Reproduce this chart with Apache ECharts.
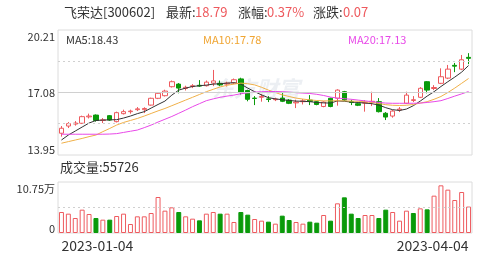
<!DOCTYPE html>
<html>
<head>
<meta charset="utf-8">
<style>
html, body { margin: 0; padding: 0; background: #fff; }
#main { width: 499px; height: 261px; }
</style>
<script src="https://cdn.jsdelivr.net/npm/echarts@6/dist/echarts.min.js"></script>
</head>
<body>
<div id="main"></div>
<script>
const dates = [
  '2023-01-04', '2023-01-05', '2023-01-06', '2023-01-09', '2023-01-10', '2023-01-11', '2023-01-12', '2023-01-13',
  '2023-01-16', '2023-01-17', '2023-01-18', '2023-01-19', '2023-01-20', '2023-01-30', '2023-01-31',
  '2023-02-01', '2023-02-02', '2023-02-03', '2023-02-06', '2023-02-07', '2023-02-08', '2023-02-09', '2023-02-10',
  '2023-02-13', '2023-02-14', '2023-02-15', '2023-02-16', '2023-02-17', '2023-02-20', '2023-02-21', '2023-02-22',
  '2023-02-23', '2023-02-24', '2023-02-27', '2023-02-28',
  '2023-03-01', '2023-03-02', '2023-03-03', '2023-03-06', '2023-03-07', '2023-03-08', '2023-03-09', '2023-03-10',
  '2023-03-13', '2023-03-14', '2023-03-15', '2023-03-16', '2023-03-17', '2023-03-20', '2023-03-21', '2023-03-22',
  '2023-03-23', '2023-03-24', '2023-03-27', '2023-03-28', '2023-03-29', '2023-03-30', '2023-03-31',
  '2023-04-03', '2023-04-04'
]

const opens = [
  15.04, 15.40, 15.50, 15.54, 15.86, 15.95, 15.68, 15.92, 15.62, 16.02,
  16.12, 16.22, 16.22, 16.45, 16.79, 16.92, 17.37, 17.50, 17.28, 17.38,
  17.44, 17.42, 17.55, 17.54, 17.50, 17.56, 17.76, 17.18, 16.80, 16.84,
  16.76, 16.72, 16.80, 16.70, 16.56, 16.62, 16.70, 16.62, 16.38, 16.79,
  16.79, 17.12, 16.62, 16.52, 16.55, 16.60, 16.62, 16.04, 15.90, 16.20,
  16.54, 16.68, 16.84, 17.62, 17.28, 17.54, 17.80, 18.44, 18.25, 18.84
]
const closes = [
  15.29, 15.52, 15.55, 15.87, 15.90, 15.68, 15.71, 15.70, 16.07, 16.12,
  16.15, 16.26, 16.28, 16.79, 17.04, 17.15, 17.62, 17.30, 17.34, 17.42,
  17.40, 17.60, 17.66, 17.46, 17.55, 17.72, 17.08, 16.74, 16.78, 16.88,
  16.73, 16.75, 16.64, 16.54, 16.60, 16.66, 16.64, 16.48, 16.60, 16.38,
  17.20, 16.70, 16.58, 16.44, 16.58, 16.64, 16.12, 15.85, 16.15, 16.25,
  16.95, 16.72, 17.29, 17.20, 17.33, 17.87, 18.25, 18.40, 18.72, 18.79
]
const lows = [
  14.87, 15.30, 15.42, 15.50, 15.78, 15.62, 15.55, 15.66, 15.58, 15.98,
  16.02, 16.15, 16.05, 16.42, 16.75, 16.88, 17.33, 17.04, 17.18, 17.30,
  17.36, 17.38, 17.40, 17.40, 17.38, 17.50, 16.98, 16.64, 16.45, 16.62,
  16.60, 16.65, 16.60, 16.50, 16.30, 16.48, 16.45, 16.44, 16.34, 16.34,
  16.42, 16.65, 16.45, 16.40, 16.12, 16.40, 16.08, 15.70, 15.82, 16.10,
  16.50, 16.60, 16.80, 17.04, 17.20, 17.50, 17.75, 18.10, 18.20, 18.50
]
const highs = [
  15.40, 15.60, 15.65, 15.92, 16.02, 15.98, 15.80, 15.95, 16.12, 16.22,
  16.22, 16.35, 16.34, 16.82, 17.10, 17.22, 17.68, 17.55, 17.42, 17.50,
  17.70, 17.68, 18.21, 17.68, 17.62, 17.78, 17.82, 17.22, 16.90, 17.00,
  16.90, 16.82, 17.05, 16.75, 16.72, 16.75, 16.95, 16.66, 16.64, 16.82,
  17.24, 17.16, 16.72, 16.56, 16.70, 17.12, 16.80, 16.10, 16.20, 16.35,
  17.12, 16.90, 17.35, 17.65, 17.45, 18.29, 18.46, 18.56, 18.96, 19.05
]

// 均线数值（从图上读出，窗口外的历史数据看不到）
const ma5 = [
  14.70, 14.95, 15.15, 15.35, 15.55, 15.68, 15.70, 15.71, 15.72, 15.80,
  15.90, 16.02, 16.12, 16.30, 16.48, 16.65, 16.95, 17.20, 17.30, 17.38,
  17.42, 17.45, 17.50, 17.52, 17.55, 17.57, 17.50, 17.30, 17.12, 16.96,
  16.82, 16.76, 16.72, 16.68, 16.65, 16.64, 16.62, 16.58, 16.56, 16.55,
  16.66, 16.64, 16.60, 16.58, 16.55, 16.52, 16.45, 16.32, 16.22, 16.18,
  16.25, 16.42, 16.65, 16.90, 17.12, 17.38, 17.62, 17.85, 18.10, 18.43
]
const ma10 = [
  14.54, 14.62, 14.70, 14.78, 14.87, 14.95, 15.12, 15.28, 15.45, 15.58,
  15.68, 15.78, 15.90, 16.03, 16.16, 16.28, 16.42, 16.56, 16.70, 16.84,
  16.98, 17.12, 17.24, 17.36, 17.44, 17.50, 17.55, 17.52, 17.46, 17.34,
  17.20, 17.08, 16.96, 16.88, 16.80, 16.75, 16.71, 16.68, 16.66, 16.66,
  16.67, 16.66, 16.65, 16.64, 16.62, 16.58, 16.53, 16.47, 16.44, 16.43,
  16.44, 16.48, 16.55, 16.62, 16.74, 16.88, 17.08, 17.30, 17.54, 17.78
]
const ma20 = [
  14.99, 14.99, 14.99, 14.99, 14.99, 14.99, 14.99, 15.00, 15.02, 15.08,
  15.14, 15.20, 15.32, 15.45, 15.60, 15.74, 15.88, 16.04, 16.20, 16.37,
  16.52, 16.67, 16.76, 16.84, 16.90, 16.95, 17.02, 17.06, 17.10, 17.12,
  17.13, 17.13, 17.12, 17.10, 17.07, 17.05, 17.03, 16.99, 16.93, 16.85,
  16.80, 16.77, 16.74, 16.70, 16.66, 16.62, 16.58, 16.55, 16.54, 16.54,
  16.54, 16.54, 16.55, 16.58, 16.62, 16.67, 16.78, 16.90, 17.01, 17.13
]

const volumes = [
  44264, 40750, 31617, 49182, 40048, 31617, 28104, 28104, 35833, 40750,
  18970, 35130, 35130, 42156, 75881, 47074, 54100, 44264, 35130, 30212,
  26699, 40750, 44264, 40750, 40750, 23186, 44264, 38643, 29509, 25996,
  23888, 19673, 36535, 27401, 23186, 19673, 23888, 21781, 37940, 25996,
  62531, 75178, 40750, 31617, 37940, 37940, 31617, 49182, 44264, 25996,
  47074, 42156, 51992, 49885, 78691, 100472, 91338, 69557, 86420, 55726
]

const priceLabels = [13.95, 17.08, 20.21]
const priceDashed = [15.515, 18.645]
const priceSolid = [17.08]
const volLabels = [0, 107500]
const volDashed = [53750]

const RED = '#ee5a5e'
const GREEN = '#0a9a0a'
const GRID_LINE = '#d0d0d0'
const FONT = '"Noto Sans CJK SC", sans-serif'

const kData = opens.map((o, i) => [o, closes[i], lows[i], highs[i]])
// 成交量颜色按与前一日收盘价比较
const volData = volumes.map((v, i) => {
  const up = i === 0 || closes[i] >= closes[i - 1]
  return {
    value: v,
    itemStyle: up
      ? { color: '#fff', borderColor: RED, borderWidth: 1 }
      : { color: GREEN, borderColor: GREEN, borderWidth: 1 }
  }
})

const hLines = (dashed, solid) => [
  ...dashed.map(v => ({ yAxis: v, lineStyle: { color: GRID_LINE, type: [2, 3], width: 1 } })),
  ...solid.map(v => ({ yAxis: v, lineStyle: { color: GRID_LINE, type: 'solid', width: 1 } }))
]

const chart = echarts.init(document.getElementById('main'))

const txt = (text, x, y, fill, size) => ({
  type: 'text',
  left: x,
  top: y,
  style: { text, fill, font: `${size || 13}px ${FONT}` }
})

const option = {
  animation: false,
  graphic: [
    txt('飞荣达[300602]', 64, 6, '#333'),
    txt('最新:', 166, 6, '#333'),
    txt('18.79', 195, 6, RED),
    txt('涨幅:', 238, 6, '#333'),
    txt('0.37%', 267, 6, RED),
    txt('涨跌:', 313, 6, '#333'),
    txt('0.07', 343, 6, RED),
    txt('MA5:18.43', 66, 34, '#333', 11),
    txt('MA10:17.78', 203, 34, '#f0a532', 11),
    txt('MA20:17.13', 348, 34, '#e848e8', 11),
    txt('成交量:55726', 60, 161, '#333'),
    {
      type: 'text',
      left: 212,
      top: 78,
      z: -1,
      style: { text: '东方财富', fill: 'rgba(170,180,200,0.22)', font: `italic bold 22px ${FONT}` }
    }
  ],
  grid: [
    { left: 58, right: 27, top: 30, height: 125, show: true, borderColor: '#dcdcdc', borderWidth: 1 },
    { left: 58, right: 27, top: 182, height: 51, show: true, borderColor: '#dcdcdc', borderWidth: 1 }
  ],
  xAxis: [
    {
      type: 'category',
      data: dates,
      gridIndex: 0,
      axisLine: { show: false },
      axisTick: { show: false },
      axisLabel: { show: false }
    },
    {
      type: 'category',
      data: dates,
      gridIndex: 1,
      axisLine: { show: false },
      axisTick: { show: false },
      axisLabel: {
        interval: (i) => i === 0 || i === dates.length - 1,
        alignMinLabel: 'left',
        alignMaxLabel: 'right',
        color: '#333',
        fontSize: 14,
        fontFamily: FONT,
        margin: 6
      }
    }
  ],
  yAxis: [
    {
      type: 'value',
      gridIndex: 0,
      min: 13.95,
      max: 20.21,
      axisLine: { show: false },
      axisTick: { show: false },
      splitLine: { show: false },
      axisLabel: {
        customValues: priceLabels,
        margin: 3,
        color: '#333',
        fontSize: 11,
        fontFamily: FONT,
        formatter: (v) => {
          if (Math.abs(v - 20.21) < 0.001) return '{t|20.21}'
          if (Math.abs(v - 13.95) < 0.001) return '{b|13.95}'
          return '{m|' + v.toFixed(2) + '}'
        },
        rich: {
          t: { padding: [14, 0, 0, 0], fontSize: 11, color: '#333', fontFamily: FONT },
          b: { padding: [0, 0, 10, 0], fontSize: 11, color: '#333', fontFamily: FONT },
          m: { fontSize: 11, color: '#333', fontFamily: FONT }
        }
      }
    },
    {
      type: 'value',
      gridIndex: 1,
      min: 0,
      max: 107500,
      axisLine: { show: false },
      axisTick: { show: false },
      splitLine: { show: false },
      axisLabel: {
        customValues: volLabels,
        margin: 3,
        color: '#333',
        fontSize: 11,
        fontFamily: FONT,
        formatter: (v) => (v > 0 ? '{t|10.75万}' : '{b|0}'),
        rich: {
          t: { padding: [14, 0, 0, 0], fontSize: 11, color: '#333', fontFamily: FONT },
          b: { padding: [0, 0, 8, 0], fontSize: 11, color: '#333', fontFamily: FONT }
        }
      }
    }
  ],
  series: [
    {
      name: 'K',
      type: 'candlestick',
      xAxisIndex: 0,
      yAxisIndex: 0,
      data: kData,
      barWidth: '72%',
      itemStyle: {
        color: '#fff',
        color0: GREEN,
        borderColor: RED,
        borderColor0: GREEN,
        borderWidth: 1
      },
      markLine: {
        silent: true,
        symbol: 'none',
        label: { show: false },
        data: hLines(priceDashed, priceSolid)
      }
    },
    {
      name: 'MA5', type: 'line', data: ma5, xAxisIndex: 0, yAxisIndex: 0,
      symbol: 'none', lineStyle: { color: '#333', width: 1 }
    },
    {
      name: 'MA10', type: 'line', data: ma10, xAxisIndex: 0, yAxisIndex: 0,
      symbol: 'none', lineStyle: { color: '#f0b048', width: 1 }
    },
    {
      name: 'MA20', type: 'line', data: ma20, xAxisIndex: 0, yAxisIndex: 0,
      symbol: 'none', lineStyle: { color: '#e848e8', width: 1 }
    },
    {
      name: '成交量',
      type: 'bar',
      xAxisIndex: 1,
      yAxisIndex: 1,
      data: volData,
      barWidth: '72%',
      markLine: {
        silent: true,
        symbol: 'none',
        label: { show: false },
        data: hLines(volDashed, [])
      }
    }
  ]
}

chart.setOption(option)
</script>
</body>
</html>
